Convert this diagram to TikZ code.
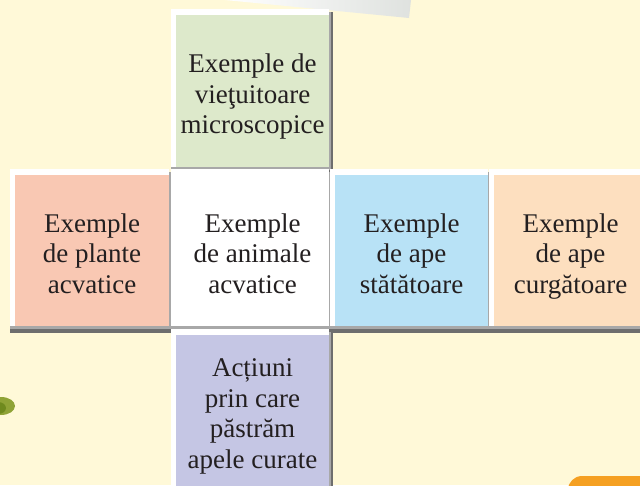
\documentclass[tikz,border=0pt]{standalone}
\usepackage{fontspec}
\setmainfont{Liberation Serif}
\usetikzlibrary{backgrounds}
\definecolor{paper}{HTML}{FFF9D8}
\definecolor{ink}{HTML}{231F20}
\definecolor{cgreen}{HTML}{DDE9CB}
\definecolor{cpink}{HTML}{F9C8B3}
\definecolor{cblue}{HTML}{B8E2F6}
\definecolor{cpeach}{HTML}{FDDFBF}
\definecolor{cpurple}{HTML}{C5C6E4}
\definecolor{shadowdark}{HTML}{6E6E6E}
\definecolor{shadowlight}{HTML}{A8A8A8}
\definecolor{bannergray}{HTML}{DFE2DF}
\definecolor{taborange}{HTML}{F5A022}
\definecolor{leaf}{HTML}{8FA336}
\definecolor{leafdark}{HTML}{6F8A1E}
% framed card behind a cell: drop shadow, white frame, coloured face
\newcommand\cardbg[2]{%
  \fill[shadowdark] ([xshift=-5pt,yshift=3pt]#1.north west) rectangle ([xshift=4pt,yshift=-7pt]#1.south east);
  \fill[shadowlight] ([xshift=-5pt,yshift=3pt]#1.north west) rectangle ([xshift=2pt,yshift=-3pt]#1.south east);
  \fill[white] ([xshift=-5pt,yshift=6pt]#1.north west) rectangle (#1.south east);
  \fill[#2] (#1.north west) rectangle (#1.south east);
}
% fixed top and bottom struts so every text block sits alike
\newcommand\firstline{\rule{0pt}{33pt}}
\newcommand\lastline{\rule[-8.7pt]{0pt}{8.7pt}}
\tikzset{
  cell/.style={minimum width=153pt, minimum height=151pt, inner sep=0pt,
    align=center, text=ink, font=\fontsize{27}{30.5}\selectfont}
}
\begin{document}
\begin{tikzpicture}[x=1pt, y=-1pt]
  \useasboundingbox (0,0) rectangle (640,485);

  % the cross of cells
  \node[cell] (micro) at (252.5,91) {\firstline Exemple de\\vieţuitoare\\microscopice\lastline};
  \node[cell] (plante) at (92,250.5) {\firstline Exemple\\de plante\\acvatice\lastline};
  \node[cell] (animale) at (252.5,250.5) {\firstline Exemple\\de animale\\acvatice\lastline};
  \node[cell] (statatoare) at (411.5,250.5) {\firstline Exemple\\de ape\\stătătoare\lastline};
  \node[cell] (curgatoare) at (570.5,250.5) {\firstline Exemple\\de ape\\curgătoare\lastline};
  \node[cell] (actiuni) at (252.5,410.5) {\firstline Acțiuni\\prin care\\păstrăm\\apele curate\lastline};

  \begin{scope}[on background layer]
    \fill[paper] (0,0) rectangle (640,485);
    % paper strip at the top edge
    \shade[left color=white, right color=bannergray] (225,0) -- (411,0) -- (409,18) -- cycle;
    \cardbg{micro}{cgreen}
    \cardbg{plante}{cpink}
    \cardbg{animale}{white}
    \cardbg{statatoare}{cblue}
    \cardbg{curgatoare}{cpeach}
    \cardbg{actiuni}{cpurple}
  \end{scope}

  % leaf tip at the left edge
  \fill[leaf] (1,406) ellipse [x radius=14, y radius=9];
  \fill[leafdark] (-2,408) ellipse [x radius=8, y radius=6];

  % orange tab at the lower right corner
  \fill[taborange, rounded corners=14pt] (568,476) rectangle (680,520);
\end{tikzpicture}
\end{document}
